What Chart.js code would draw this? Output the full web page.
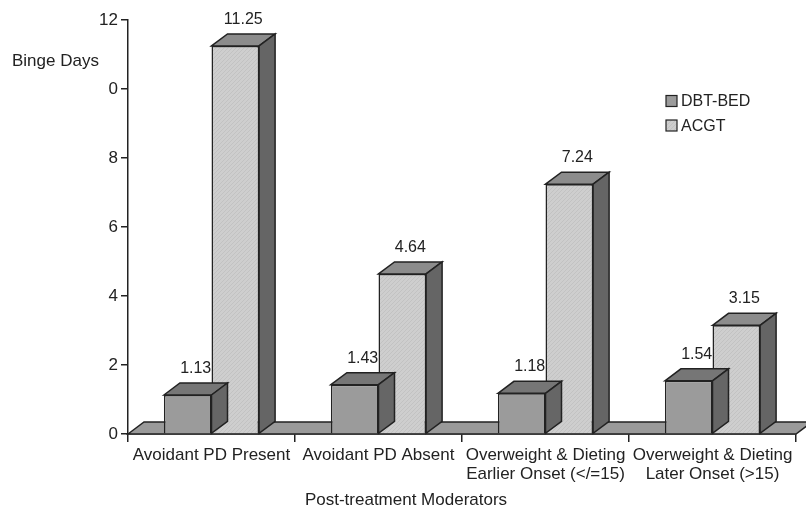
<!DOCTYPE html>
<html>
<head>
<meta charset="utf-8">
<script src="https://cdn.jsdelivr.net/npm/chart.js@4.4.1/dist/chart.umd.min.js"></script>
<style>
  html, body { margin: 0; padding: 0; background: #fff; }
  canvas { display: block; }
</style>
</head>
<body>
<canvas id="c" width="806" height="515"></canvas>
<script>
// Data
const categories = [
  ['Avoidant PD Present'],
  ['Avoidant PD Absent'],
  ['Overweight & Dieting', 'Earlier Onset (</=15)'],
  ['Overweight & Dieting', 'Later Onset (>15)']
];
const seriesNames = ['DBT-BED', 'ACGT'];
const dbtBed = [1.13, 1.43, 1.18, 1.54];
const acgt = [11.25, 4.64, 7.24, 3.15];
const yTickLabels = ['0', '2', '4', '6', '8', '0', '12'];
const yTitle = 'Binge Days';
const xTitle = 'Post-treatment Moderators';

// Styling
const FONT = '"Liberation Sans", Arial, sans-serif';
const INK = '#222222';
const DX = 16, DY = 12;               // depth of the extruded faces
const faces = [
  { top: '#767676', side: '#666666' },
  { top: '#8c8c8c', side: '#656565' }
];

const canvas = document.getElementById('c');
const ctx0 = canvas.getContext('2d');

function hatchPattern() {
  const p = document.createElement('canvas');
  p.width = 4; p.height = 4;
  const g = p.getContext('2d');
  g.fillStyle = '#cecece';
  g.fillRect(0, 0, 4, 4);
  g.strokeStyle = '#c2c2c2';
  g.lineWidth = 1;
  g.beginPath();
  g.moveTo(-1, 5); g.lineTo(5, -1);
  g.stroke();
  return ctx0.createPattern(p, 'repeat');
}
const acgtFill = hatchPattern();
const fills = ['#9b9b9b', acgtFill];

function poly(ctx, pts, fill) {
  ctx.beginPath();
  ctx.moveTo(pts[0][0], pts[0][1]);
  for (let i = 1; i < pts.length; i++) ctx.lineTo(pts[i][0], pts[i][1]);
  ctx.closePath();
  ctx.fillStyle = fill;
  ctx.fill();
  ctx.lineWidth = 1.5;
  ctx.strokeStyle = INK;
  ctx.lineJoin = 'miter';
  ctx.stroke();
}

const depthPlugin = {
  id: 'depth',
  beforeDatasetsDraw(chart) {
    const { ctx, chartArea: { left, right }, scales: { y } } = chart;
    const b = y.getPixelForValue(0);
    ctx.save();
    poly(ctx, [[left, b], [left + DX, b - DY], [right + DX, b - DY], [right, b]], '#9a9a9a');
    ctx.restore();
  },
  afterDatasetDraw(chart, args) {
    const { ctx } = chart;
    const c = faces[args.index];
    ctx.save();
    args.meta.data.forEach(bar => {
      const { x, y, base, width } = bar.getProps(['x', 'y', 'base', 'width'], true);
      const l = x - width / 2, r = x + width / 2;
      poly(ctx, [[l, y], [l + DX, y - DY], [r + DX, y - DY], [r, y]], c.top);
      poly(ctx, [[r, y], [r + DX, y - DY], [r + DX, base - DY], [r, base]], c.side);
    });
    ctx.restore();
  },
  afterDatasetsDraw(chart) {
    const { ctx } = chart;
    ctx.save();
    ctx.fillStyle = INK;

    // value labels above each bar
    ctx.font = '16px ' + FONT;
    ctx.textAlign = 'center';
    ctx.textBaseline = 'alphabetic';
    chart.data.datasets.forEach((ds, di) => {
      chart.getDatasetMeta(di).data.forEach((bar, i) => {
        const { x, y } = bar.getProps(['x', 'y'], true);
        ctx.fillText(ds.data[i].toFixed(2), x + DX / 2, y - DY - 10);
      });
    });

    // legend
    ctx.textAlign = 'left';
    ctx.textBaseline = 'middle';
    chart.data.datasets.forEach((ds, di) => {
      const cy = 101 + di * 24.5;
      ctx.fillStyle = fills[di];
      ctx.fillRect(666, cy - 5.5, 11, 11);
      ctx.lineWidth = 1.2;
      ctx.strokeStyle = INK;
      ctx.strokeRect(666, cy - 5.5, 11, 11);
      ctx.fillStyle = INK;
      ctx.fillText(ds.label, 681, cy + 1);
    });

    // axis titles
    ctx.font = '17px ' + FONT;
    ctx.textAlign = 'left';
    ctx.fillText(yTitle, 12, 61);
    ctx.textAlign = 'center';
    ctx.fillText(xTitle, 406, 500);
    ctx.restore();
  }
};

new Chart(canvas, {
  type: 'bar',
  data: {
    labels: categories,
    datasets: [
      { label: seriesNames[0], data: dbtBed, backgroundColor: fills[0], borderColor: INK, borderWidth: 1.5 },
      { label: seriesNames[1], data: acgt, backgroundColor: fills[1], borderColor: INK, borderWidth: 1.5 }
    ]
  },
  options: {
    responsive: false,
    animation: false,
    events: [],
    layout: { padding: { top: 20, right: 10, left: 0, bottom: 0 } },
    datasets: { bar: { categoryPercentage: 0.57, barPercentage: 1.0 } },
    plugins: { legend: { display: false }, tooltip: { enabled: false } },
    scales: {
      x: {
        afterFit(scale) { scale.height = 81; },
        grid: { offset: true, drawOnChartArea: false, drawTicks: true, tickLength: 8, color: INK, lineWidth: 1.5 },
        border: { display: true, color: INK, width: 1.5 },
        ticks: {
          color: INK, padding: 4, maxRotation: 0, autoSkip: false,
          font: { family: FONT, size: 17, lineHeight: 1.12 }
        }
      },
      y: {
        min: 0, max: 12,
        afterFit(scale) { scale.width = 128; },
        grid: { drawOnChartArea: false, drawTicks: true, tickLength: 7, color: INK, lineWidth: 1.5 },
        border: { display: true, color: INK, width: 1.5 },
        ticks: {
          stepSize: 2, color: INK, padding: 3,
          font: { family: FONT, size: 17 },
          callback: (v, i) => yTickLabels[i]
        }
      }
    }
  },
  plugins: [depthPlugin]
});
</script>
</body>
</html>
